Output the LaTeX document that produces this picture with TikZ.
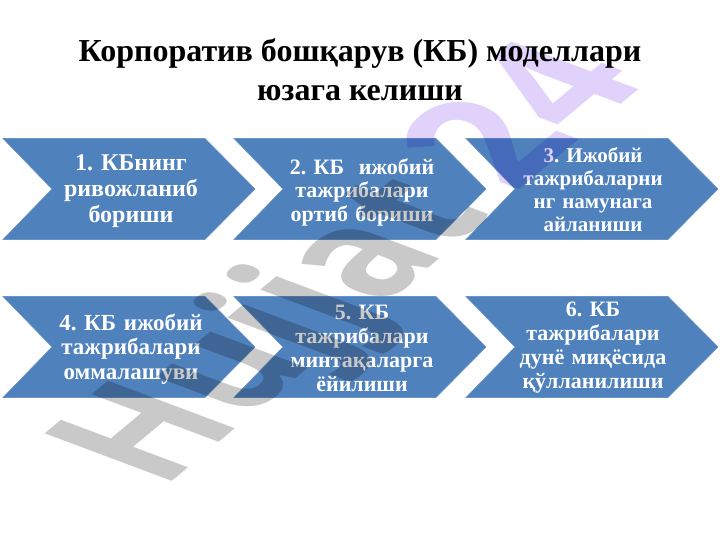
\documentclass[tikz,border=0pt]{standalone}
\usepackage{fontspec}
\setmainfont{Liberation Serif}
\newfontfamily\chevfont[WordSpace=0.7]{Liberation Serif}
\newfontfamily\wmfont{Open Sans}
\definecolor{chevblue}{HTML}{4F81BD}
\definecolor{wmgray}{HTML}{C9C9C9}
\definecolor{wmpurple}{HTML}{E0D2FA}
\tikzset{
  chev/.style={fill=chevblue,draw=chevblue!85!white,line width=.6pt},
  chevtext/.style 2 args={text=white,font=\chevfont\bfseries\fontsize{#1}{#2}\selectfont\frenchspacing,align=center,inner sep=0pt},
  titletext/.style={text=black,font=\fontsize{32}{39}\selectfont\bfseries\frenchspacing,align=center,inner sep=0pt},
  wmtext/.style={transform shape,anchor=base west,inner sep=0pt,font=\wmfont\bfseries\fontsize{100}{100}\selectfont}
}
\newcommand{\chevshape}[2]{%
  \path[chev] (#1+3,#2+50.5) -- (#1+205,#2+50.5) -- (#1+255,#2) -- (#1+205,#2-50.5) -- (#1+3,#2-50.5) -- (#1+52,#2) -- cycle;}
\begin{document}
\begin{tikzpicture}[x=1pt,y=1pt]
\useasboundingbox (0,0) rectangle (720,540);
\fill[white] (0,0) rectangle (720,540);
\node[titletext] (title) at (360,470.5) {Корпоратив бошқарув (КБ) моделлари\\юзага келиши};
\chevshape{0}{351}
\chevshape{231}{351}
\chevshape{463}{351}
\chevshape{0}{193}
\chevshape{231}{193}
\chevshape{463}{193}
\node[chevtext={24}{26},text width=180pt] (a1) at (131,348.5) {1. КБнинг\\ривожланиб\\бориши};
\node[chevtext={22}{23.5},text width=180pt] (a2) at (362,348) {2. КБ\ \ ижобий\\тажрибалари\\ортиб бориши};
\node[chevtext={21}{23},text width=180pt] (a3) at (593,350) {3. Ижобий\\тажрибаларни\\нг намунага\\айланиши};
\node[chevtext={23}{24.5},text width=180pt] (a4) at (131,191) {4. КБ ижобий\\тажрибалари\\оммалашуви};
\node[chevtext={22}{24},text width=180pt] (a5) at (362,192) {5. КБ\\тажрибалари\\минтақаларга\\ёйилиши};
\node[chevtext={22}{24},text width=180pt] (a6) at (593,192) {6. КБ\\тажрибалари\\дунё миқёсида\\қўлланилиши};
\begin{scope}[blend mode=multiply,cm={1.08,.9,-1.78,.667,(170,57)}]
\node[wmtext,text=wmgray] (wma) at (-7,0) {Hujjat};
\end{scope}
\begin{scope}[blend mode=multiply,cm={1.2,1.0,-1.78,.667,(155,47)}]
\node[wmtext,text=wmpurple] (wmb) at (299,0) {24};
\end{scope}
\end{tikzpicture}
\end{document}
